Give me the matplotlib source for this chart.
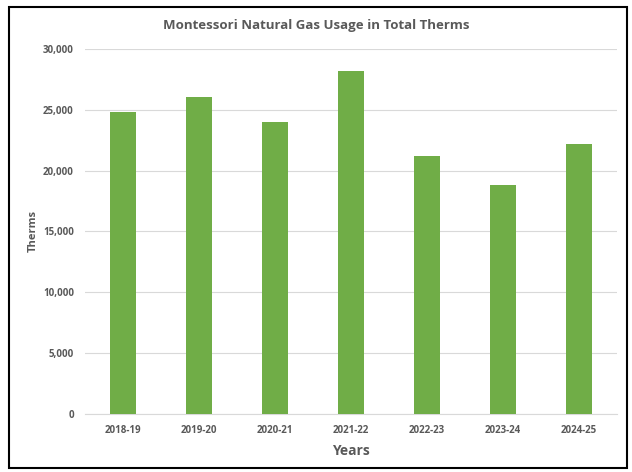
import matplotlib
matplotlib.use('Agg')
from matplotlib import pyplot as plt
from matplotlib.patches import Rectangle
from matplotlib.ticker import FuncFormatter

YEARS = ['2018-19', '2019-20', '2020-21', '2021-22', '2022-23', '2023-24', '2024-25']
THERMS = [24800, 26050, 24000, 28200, 21200, 18850, 22200]
YTICKS = [0, 5000, 10000, 15000, 20000, 25000, 30000]

GRAY = '#595959'
plt.rcParams['font.family'] = ['Open Sans', 'DejaVu Sans']

fig = plt.figure(figsize=(6.32, 4.72), dpi=100)
ax = fig.add_axes([85/632, 1 - 414/472, 532/632, 365/472])

x = range(len(YEARS))
ax.bar(x, THERMS, width=0.33, color='#70ad47', zorder=3)
ax.set_xlim(-0.5, len(YEARS) - 0.5)
ax.set_ylim(0, 30000)
ax.set_yticks(YTICKS)
ax.yaxis.set_major_formatter(FuncFormatter(lambda v, p: '{:,.0f}'.format(v)))
ax.set_xticks(list(x))
ax.set_xticklabels(YEARS)
ax.grid(axis='y', color='#d9d9d9', linewidth=0.8, zorder=0)
for s in ['top', 'right', 'left']:
    ax.spines[s].set_visible(False)
ax.spines['bottom'].set_color('#d9d9d9')
ax.tick_params(length=0, labelsize=7, labelcolor=GRAY, pad=8)
for lbl in ax.get_xticklabels() + ax.get_yticklabels():
    lbl.set_fontweight('bold')

ax.set_xlabel('Years', fontsize=10, fontweight='bold', color=GRAY, labelpad=6)
ax.set_ylabel('Therms', fontsize=8, fontweight='bold', color=GRAY, labelpad=3)
fig.text(0.5, 1 - 25/472, 'Montessori Natural Gas Usage in Total Therms',
         ha='center', va='center', fontsize=9.5, fontweight='bold', color=GRAY)

# outer border
fig.patches.append(Rectangle((9/632, 1 - 468/472), 618/632, 461/472, transform=fig.transFigure,
                             fill=False, edgecolor='black', linewidth=1.5))

fig.savefig('out.png', dpi=100)
